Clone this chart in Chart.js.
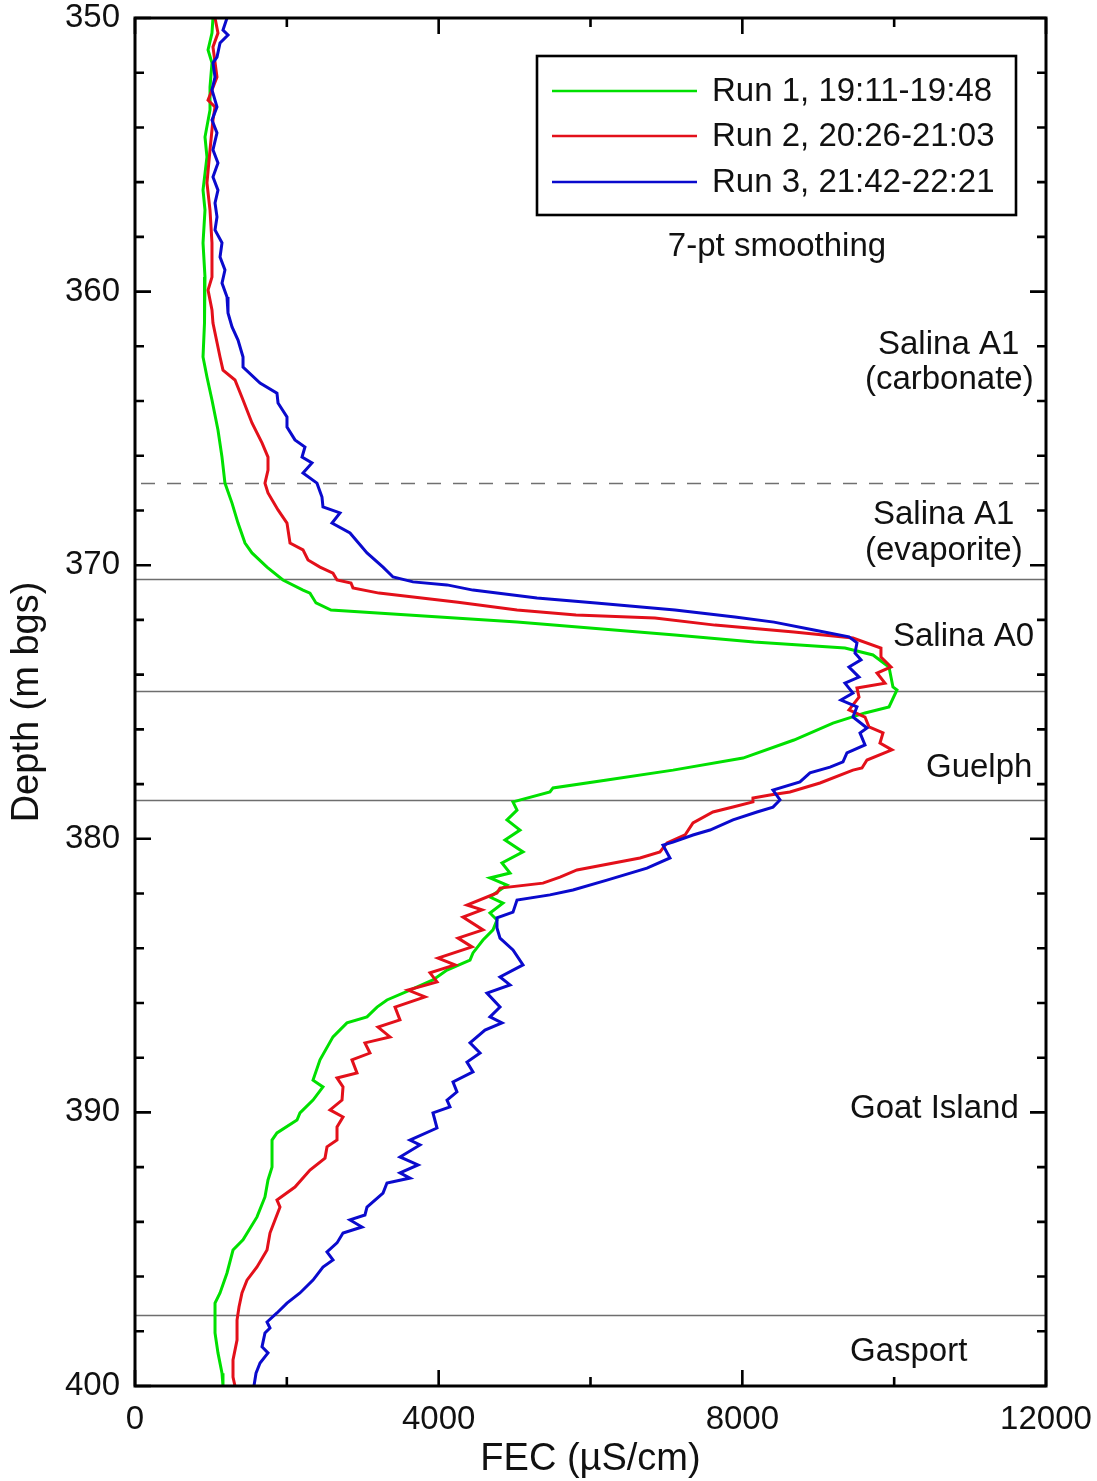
<!DOCTYPE html>
<html lang="en">
<head>
    <meta charset="UTF-8">
    <title>FEC profiles</title>
    <script src="https://cdn.jsdelivr.net/npm/chart.js"></script>
    <style>
        html, body { margin: 0; padding: 0; background: #fff; }
        canvas { display: block; }
    </style>
</head>
<body>
    <canvas id="fecChart" width="1097" height="1481"></canvas>

    <script>
        // Run 1, 19:11-19:48 (depth in m bgs, FEC in uS/cm)
        const run1Depth = [350.0, 350.55, 351.17, 351.64, 352.52, 353.36, 354.35, 355.08, 356.29, 357.02,
            358.22, 359.47, 360.42, 361.15, 362.39, 363.12, 363.96, 365.06, 366.05, 367.0,
            367.73, 368.46, 369.19, 369.55, 370.07, 370.54, 370.91, 371.02, 371.38, 371.64,
            372.08, 372.55, 372.81, 373.03, 373.28, 373.72, 374.45, 374.56, 375.18, 375.40,
            375.77, 376.39, 377.05, 377.49, 377.85, 378.14, 378.29, 378.65, 378.95, 379.31,
            379.68, 380.04, 380.48, 380.88, 381.25, 381.43, 381.69, 382.13, 382.35, 382.71,
            382.97, 383.33, 383.70, 384.17, 384.43, 384.80, 385.16, 385.53, 385.89, 386.15,
            386.51, 386.73, 387.24, 388.08, 388.82, 389.07, 389.55, 390.02, 390.28, 390.75,
            391.01, 392.0, 392.47, 393.09, 393.82, 394.66, 395.03, 395.87, 396.60, 396.97,
            398.06, 398.79, 399.53, 400.0];
        const run1Fec = [1027, 1014, 962, 1014, 988, 988, 922, 948, 896, 922,
            896, 922, 909, 922, 896, 948, 1014, 1093, 1146, 1185,
            1278, 1357, 1449, 1541, 1739, 1949, 2213, 2305, 2384, 2582,
            5032, 7113, 8153, 9352, 9721, 9932, 9984, 10037, 9932, 9616,
            9194, 8680, 8009, 7087, 6217, 5506, 5466, 4979, 5032, 4900,
            5071, 4874, 5111, 4834, 4940, 4676, 4900, 4676, 4847, 4676,
            4768, 4716, 4584, 4452, 4413, 4110, 3925, 3622, 3319, 3188,
            3056, 2792, 2608, 2437, 2345, 2476, 2345, 2173, 2134, 1870,
            1805, 1805, 1752, 1712, 1607, 1423, 1291, 1212, 1120, 1054,
            1054, 1093, 1146, 1159];

        // Run 2, 20:26-21:03
        const run2Depth = [350.0, 350.55, 351.06, 352.16, 352.63, 353.0, 353.25, 353.73, 354.82, 356.03,
            357.02, 358.22, 359.47, 359.94, 360.67, 361.15, 362.39, 362.87, 363.23, 363.96,
            364.80, 365.53, 366.05, 366.52, 367.0, 367.36, 367.98, 368.46, 369.19, 369.44,
            369.81, 370.07, 370.29, 370.54, 370.65, 370.83, 371.02, 371.35, 371.64, 371.82,
            371.93, 372.19, 372.44, 372.66, 373.03, 373.36, 373.72, 373.94, 374.31, 374.49,
            374.82, 375.29, 375.55, 375.91, 376.13, 376.50, 376.75, 377.12, 377.41, 377.49,
            377.96, 378.29, 378.40, 378.51, 378.65, 378.84, 379.02, 379.42, 379.86, 380.15,
            380.48, 380.70, 381.14, 381.40, 381.62, 381.80, 381.98, 382.42, 382.60, 382.86,
            383.33, 383.63, 383.95, 384.36, 384.61, 384.90, 385.23, 385.53, 385.78, 386.15,
            386.62, 386.88, 387.24, 387.46, 387.83, 388.08, 388.56, 388.74, 389.07, 389.55,
            389.91, 390.17, 390.53, 391.01, 391.26, 391.67, 392.11, 392.73, 393.20, 393.46,
            393.93, 394.41, 395.03, 395.65, 396.13, 396.60, 397.11, 397.59, 398.32, 399.05,
            399.67, 400.0];
        const run2Fec = [1054, 1093, 1027, 1080, 1014, 962, 1054, 1027, 988, 948,
            988, 1014, 1014, 962, 1014, 1027, 1120, 1159, 1317, 1423,
            1541, 1673, 1752, 1752, 1712, 1752, 1884, 2002, 2042, 2213,
            2279, 2437, 2608, 2661, 2845, 2871, 3214, 4255, 5032, 5809,
            6849, 7640, 8680, 9457, 9826, 9826, 9958, 9774, 9879, 9510,
            9537, 9405, 9616, 9668, 9853, 9813, 9971, 9642, 9576, 9457,
            9023, 8627, 8364, 8140, 8140, 7877, 7613, 7350, 7245, 7008,
            6915, 6652, 5822, 5598, 5374, 4808, 4768, 4373, 4571, 4320,
            4584, 4255, 4439, 3991, 4215, 3886, 3978, 3596, 3820, 3425,
            3490, 3201, 3359, 3029, 3095, 2858, 2924, 2661, 2740, 2727,
            2569, 2740, 2661, 2661, 2529, 2503, 2305, 2107, 1870, 1910,
            1844, 1778, 1739, 1607, 1475, 1409, 1370, 1344, 1344, 1291,
            1291, 1317];

        // Run 3, 21:42-22:21
        const run3Depth = [350.0, 350.44, 350.62, 350.91, 351.43, 351.64, 352.16, 352.63, 353.25, 353.73,
            354.20, 354.82, 355.30, 355.81, 356.29, 356.76, 357.27, 357.75, 358.22, 358.74,
            359.21, 359.69, 360.20, 360.56, 360.78, 361.29, 361.77, 362.39, 362.76, 363.34,
            363.71, 364.07, 364.58, 364.95, 365.42, 365.68, 366.05, 366.26, 366.63, 367.0,
            367.51, 367.87, 368.09, 368.46, 368.82, 369.55, 370.07, 370.43, 370.61, 370.72,
            370.91, 371.20, 371.38, 371.64, 371.89, 372.08, 372.37, 372.62, 372.84, 373.21,
            373.46, 373.72, 374.09, 374.31, 374.67, 374.93, 375.18, 375.55, 375.95, 376.13,
            376.57, 376.86, 377.19, 377.38, 377.59, 377.92, 378.22, 378.58, 378.84, 379.02,
            379.31, 379.68, 379.86, 380.12, 380.23, 380.70, 381.07, 381.51, 381.87, 382.05,
            382.24, 382.68, 382.89, 383.26, 383.63, 384.06, 384.61, 385.05, 385.34, 385.64,
            386.15, 386.51, 386.73, 386.99, 387.46, 387.83, 388.16, 388.52, 388.89, 389.25,
            389.55, 389.80, 390.02, 390.57, 391.01, 391.19, 391.63, 391.92, 392.21, 392.40,
            392.58, 392.95, 393.46, 393.75, 393.93, 394.19, 394.41, 394.77, 395.10, 395.39,
            395.65, 396.13, 396.60, 396.97, 397.33, 397.66, 397.88, 398.06, 398.57, 398.79,
            399.16, 399.53, 400.0];
        const run3Fec = [1212, 1159, 1225, 1120, 1080, 1027, 1054, 1014, 1080, 1014,
            1080, 1027, 1093, 1027, 1093, 1054, 1080, 1054, 1146, 1120,
            1185, 1146, 1212, 1225, 1225, 1278, 1357, 1423, 1423, 1647,
            1870, 1884, 2002, 2002, 2107, 2239, 2200, 2331, 2213, 2397,
            2463, 2476, 2700, 2595, 2832, 3056, 3267, 3399, 3662, 4110,
            4452, 5295, 6072, 7113, 7903, 8417, 8944, 9405, 9510, 9484,
            9563, 9405, 9537, 9352, 9457, 9299, 9510, 9457, 9642, 9550,
            9616, 9378, 9326, 9155, 8891, 8759, 8404, 8496, 8404, 8193,
            7877, 7574, 7350, 7087, 6955, 7047, 6744, 6217, 5769, 5466,
            5032, 4979, 4768, 4768, 4808, 4979, 5111, 4808, 4940, 4636,
            4808, 4676, 4834, 4610, 4413, 4545, 4373, 4452, 4189, 4241,
            4110, 4149, 3925, 3978, 3622, 3754, 3491, 3728, 3491, 3622,
            3319, 3267, 3056, 3029, 2832, 2990, 2740, 2661, 2529, 2608,
            2476, 2345, 2173, 2002, 1870, 1739, 1778, 1712, 1673, 1752,
            1647, 1594, 1567];

        const runLabels = ['Run 1, 19:11-19:48', 'Run 2, 20:26-21:03', 'Run 3, 21:42-22:21'];
        const runColors = ['#00e000', '#e3101a', '#0a0acd'];

        // axis ticks
        const fecTickLabels = [0, 4000, 8000, 12000];
        const fecMinorTicks = [2000, 6000, 10000];
        const depthTickLabels = [350, 360, 370, 380, 390, 400];
        const depthMinorTicks = [352, 354, 356, 358, 362, 364, 366, 368, 372, 374, 376, 378,
            382, 384, 386, 388, 392, 394, 396, 398];

        // formation boundaries (m bgs); the dashed one splits Salina A1
        const boundaryDepths = [370.5, 374.6, 378.6, 397.4];
        const dashedBoundaryDepths = [367.0];

        // formation names: text, FEC of left edge, depth of text middle
        const formationText = ['Salina A1', '(carbonate)', 'Salina A1', '(evaporite)', 'Salina A0', 'Guelph', 'Goat Island', 'Gasport'];
        const formationFec = [9787, 9615, 9721, 9615, 9984, 10419, 9418, 9418];
        const formationDepth = [361.95, 363.23, 368.17, 369.48, 372.62, 377.41, 389.88, 398.76];

        const FONT = '"Liberation Sans", Arial, Helvetica, sans-serif';

        function toPoints(depths, values) {
            return depths.map((d, i) => ({ x: values[i], y: d }));
        }

        const runs = [[run1Depth, run1Fec], [run2Depth, run2Fec], [run3Depth, run3Fec]];
        const datasets = runs.map(([d, v], i) => ({
            label: runLabels[i],
            data: toPoints(d, v),
            borderColor: runColors[i],
            backgroundColor: runColors[i],
            borderWidth: 3,
            pointRadius: 0,
            showLine: true,
            tension: 0,
            order: 3 - i   // later runs on top
        }));

        // boundary lines behind the curves
        const boundaryPlugin = {
            id: 'boundaries',
            beforeDatasetsDraw(chart) {
                const { ctx, chartArea: a, scales: { y } } = chart;
                ctx.save();
                ctx.strokeStyle = '#6e6e6e';
                ctx.lineWidth = 1.6;
                boundaryDepths.forEach(d => {
                    const py = Math.round(y.getPixelForValue(d)) + 0.5;
                    ctx.beginPath();
                    ctx.moveTo(a.left, py);
                    ctx.lineTo(a.right, py);
                    ctx.stroke();
                });
                ctx.setLineDash([14, 12]);
                ctx.strokeStyle = '#707070';
                dashedBoundaryDepths.forEach(d => {
                    const py = Math.round(y.getPixelForValue(d)) + 0.5;
                    ctx.beginPath();
                    ctx.moveTo(a.left + 6, py);
                    ctx.lineTo(a.right, py);
                    ctx.stroke();
                });
                ctx.restore();
            }
        };

        // frame, inward ticks on all four sides, formation names and legend box
        const framePlugin = {
            id: 'frame',
            afterDatasetsDraw(chart) {
                const { ctx, chartArea: a, scales: { x, y } } = chart;
                ctx.save();
                ctx.strokeStyle = '#000';
                ctx.lineWidth = 2.6;

                const majorLen = 16, minorLen = 9;
                ctx.beginPath();
                const xTick = (v, len) => {
                    const px = x.getPixelForValue(v);
                    ctx.moveTo(px, a.bottom); ctx.lineTo(px, a.bottom - len);
                    ctx.moveTo(px, a.top); ctx.lineTo(px, a.top + len);
                };
                const yTick = (v, len) => {
                    const py = y.getPixelForValue(v);
                    ctx.moveTo(a.left, py); ctx.lineTo(a.left + len, py);
                    ctx.moveTo(a.right, py); ctx.lineTo(a.right - len, py);
                };
                fecTickLabels.forEach(v => xTick(v, majorLen));
                fecMinorTicks.forEach(v => xTick(v, minorLen));
                depthTickLabels.forEach(v => yTick(v, majorLen));
                depthMinorTicks.forEach(v => yTick(v, minorLen));
                ctx.stroke();

                ctx.lineWidth = 3;
                ctx.strokeRect(a.left, a.top, a.right - a.left, a.bottom - a.top);

                // formation names
                ctx.fillStyle = '#111';
                ctx.font = '33px ' + FONT;
                ctx.textBaseline = 'middle';
                ctx.textAlign = 'left';
                formationText.forEach((t, i) => {
                    ctx.fillText(t, x.getPixelForValue(formationFec[i]), y.getPixelForValue(formationDepth[i]));
                });

                // legend
                const box = { left: 537, top: 56, width: 479, height: 159 };
                ctx.fillStyle = '#fff';
                ctx.fillRect(box.left, box.top, box.width, box.height);
                ctx.lineWidth = 2.6;
                ctx.strokeStyle = '#000';
                ctx.strokeRect(box.left, box.top, box.width, box.height);
                const rowY = [91, 136, 182];
                chart.data.datasets.forEach((ds, i) => {
                    ctx.strokeStyle = ds.borderColor;
                    ctx.lineWidth = 2.6;
                    ctx.beginPath();
                    ctx.moveTo(552, rowY[i]);
                    ctx.lineTo(697, rowY[i]);
                    ctx.stroke();
                    ctx.fillStyle = '#111';
                    ctx.fillText(ds.label, 712, rowY[i] + 1);
                });

                ctx.textAlign = 'center';
                ctx.fillText('7-pt smoothing', box.left + box.width / 2 + 0.5, 247);
                ctx.restore();
            }
        };

        new Chart(document.getElementById('fecChart'), {
            type: 'scatter',
            data: { datasets: datasets },
            options: {
                responsive: false,
                animation: false,
                devicePixelRatio: 1,
                layout: { padding: { top: 18, right: 51, bottom: 0, left: 0 } },
                plugins: {
                    legend: { display: false },
                    tooltip: { enabled: false }
                },
                scales: {
                    x: {
                        type: 'linear',
                        position: 'bottom',
                        min: 0,
                        max: 12000,
                        grid: { display: false, drawTicks: false },
                        border: { display: false },
                        afterBuildTicks: scale => { scale.ticks = fecTickLabels.map(v => ({ value: v })); },
                        afterFit: scale => {
                            // fixed box size; the end labels may overhang into the layout padding
                            scale.height = 95;
                            scale.paddingLeft = 0;
                            scale.paddingRight = 0;
                        },
                        ticks: {
                            color: '#111',
                            padding: 14,
                            maxRotation: 0,
                            autoSkip: false,
                            font: { family: FONT, size: 33 },
                            callback: v => String(v)
                        },
                        title: {
                            display: true,
                            text: 'FEC (µS/cm)',
                            color: '#111',
                            font: { family: FONT, size: 38, lineHeight: 1 },
                            padding: { top: 0, bottom: 2 }
                        }
                    },
                    y: {
                        type: 'linear',
                        reverse: true,
                        min: 350,
                        max: 400,
                        grid: { display: false, drawTicks: false },
                        border: { display: false },
                        afterBuildTicks: scale => { scale.ticks = depthTickLabels.map(v => ({ value: v })); },
                        afterFit: scale => {
                            scale.width = 135;
                            scale.paddingTop = 0;
                            scale.paddingBottom = 0;
                        },
                        ticks: {
                            color: '#111',
                            padding: 15,
                            autoSkip: false,
                            font: { family: FONT, size: 33, lineHeight: 1 },
                            callback: v => String(v)
                        },
                        title: {
                            display: true,
                            text: 'Depth (m bgs)',
                            color: '#111',
                            font: { family: FONT, size: 38, lineHeight: 1 },
                            padding: { top: 9, bottom: 0 }
                        }
                    }
                }
            },
            plugins: [boundaryPlugin, framePlugin]
        });
    </script>
</body>
</html>
